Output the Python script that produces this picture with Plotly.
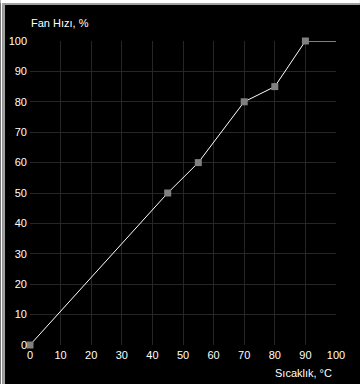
import plotly.graph_objects as go

temps = [0, 45, 55, 70, 80, 90, 100]
fan = [0, 50, 60, 80, 85, 100, 100]
pt_temps = [0, 45, 55, 70, 80, 90]
pt_fan = [0, 50, 60, 80, 85, 100]
x_ticks = list(range(0, 101, 10))
y_ticks = list(range(0, 101, 10))

W, H = 360, 384
L, R, T, B = 29.5, 24, 41, 39
pw, ph = W - L - R, H - T - B

def px(x):
    return (x - L) / pw

def py(y):
    return (H - B - y) / ph

font = dict(family="Liberation Sans, Arial, sans-serif", size=11, color="#ffffff")
grid = "#262626"

fig = go.Figure()
fig.add_trace(go.Scatter(x=temps, y=fan, mode="lines", cliponaxis=False,
                         line=dict(color="#ffffff", width=1), hoverinfo="skip"))
fig.add_trace(go.Scatter(x=pt_temps, y=pt_fan, mode="markers", cliponaxis=False,
                         marker=dict(symbol="square", size=7, color="#808080",
                                     line=dict(width=0))))

shapes = [
    dict(type="rect", xref="paper", yref="paper", x0=px(0), x1=px(W), y0=py(0), y1=py(3),
         fillcolor="#ffffff", line=dict(width=0), layer="above"),
    dict(type="rect", xref="paper", yref="paper", x0=px(2), x1=px(W), y0=py(3), y1=py(5),
         fillcolor="#a0a0a0", line=dict(width=0), layer="above"),
    dict(type="rect", xref="paper", yref="paper", x0=px(0), x1=px(2), y0=py(H), y1=py(0),
         fillcolor="#ffffff", line=dict(width=0), layer="above"),
    dict(type="rect", xref="paper", yref="paper", x0=px(2), x1=px(4.5), y0=py(H), y1=py(3),
         fillcolor="#a0a0a0", line=dict(width=0), layer="above"),
]

fig.update_layout(
    width=W, height=H,
    margin=dict(l=L, r=R, t=T, b=B, pad=0, autoexpand=False),
    paper_bgcolor="#000000", plot_bgcolor="#000000",
    showlegend=False,
    font=font,
    shapes=shapes,
    xaxis=dict(range=[0, 100], tickvals=x_ticks, ticktext=[str(v) for v in x_ticks],
               showgrid=True, gridcolor=grid, gridwidth=1, zeroline=False,
               showline=False, ticks="", tickfont=font, fixedrange=True,
               ticklabelstandoff=2, automargin=False),
    yaxis=dict(range=[0, 100], tickvals=y_ticks, ticktext=[str(v) for v in y_ticks],
               showgrid=True, gridcolor=grid, gridwidth=1, zeroline=False,
               showline=False, ticks="", tickfont=font, fixedrange=True,
               ticklabelstandoff=2, automargin=False),
    annotations=[
        dict(text="Fan Hızı, %", xref="paper", yref="paper", x=px(28), y=py(23),
             xanchor="left", yanchor="middle", showarrow=False, font=font),
        dict(text="Sıcaklık, °C", xref="paper", yref="paper", x=px(334), y=py(373),
             xanchor="right", yanchor="middle", showarrow=False, font=font),
    ],
)

fig.write_html("out.html")
